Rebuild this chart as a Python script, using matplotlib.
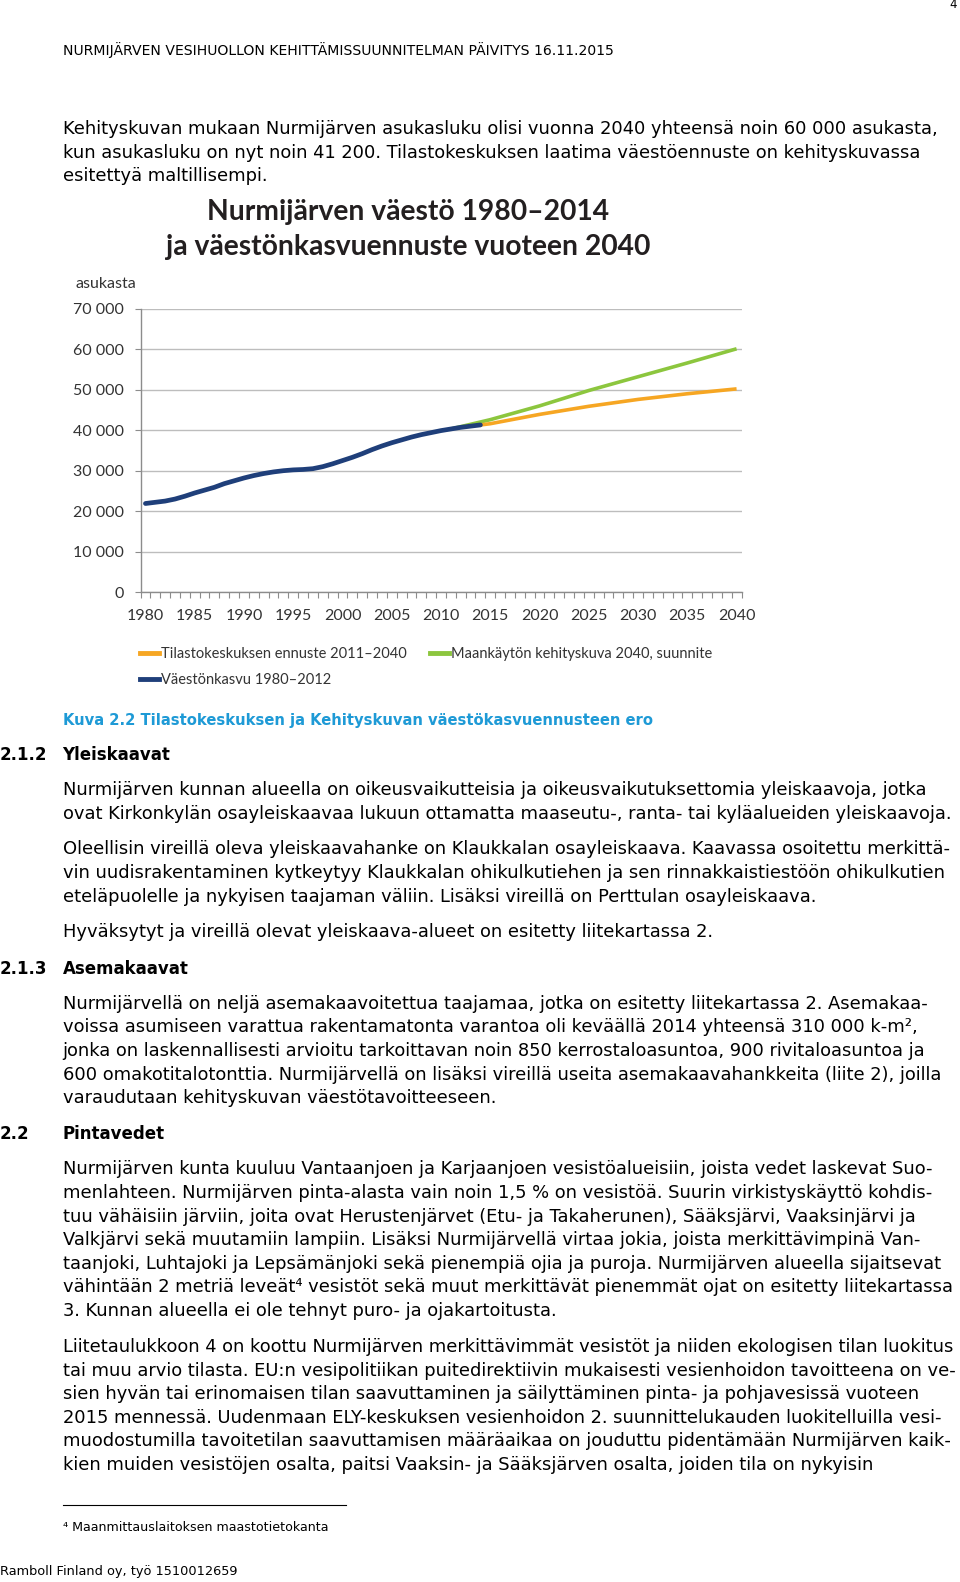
import matplotlib
import numpy as np

matplotlib.use("Agg")
import matplotlib.pyplot as plt
from matplotlib.lines import Line2D

W, H = 960, 1582

# chart data (inhabitants)
years_hist = list(range(1980, 2015))
pop_hist = [21900, 22200, 22500, 23000, 23700, 24500, 25200, 25900, 26800, 27500,
            28200, 28800, 29300, 29700, 30000, 30200, 30300, 30500, 31000, 31700,
            32500, 33300, 34200, 35200, 36100, 36900, 37600, 38300, 38900, 39400,
            39900, 40300, 40700, 41000, 41300]
years_stat = [2014, 2015, 2020, 2025, 2030, 2035, 2040]
pop_stat = [41300, 41600, 43900, 45900, 47600, 49000, 50200]
years_plan = [2011, 2015, 2020, 2025, 2030, 2035, 2040]
pop_plan = [40300, 42600, 46000, 49800, 53200, 56600, 60100]

yticks = [0, 10000, 20000, 30000, 40000, 50000, 60000, 70000]
ytick_labels = ["0", "10 000", "20 000", "30 000", "40 000", "50 000", "60 000", "70 000"]
xticks = list(range(1980, 2041, 5))

label_stat = "Tilastokeskuksen ennuste 2011–2040"
label_plan = "Maankäytön kehityskuva 2040, suunnite"
label_hist = "Väestönkasvu 1980–2012"
chart_title = ["Nurmijärven väestö 1980–2014", "ja väestönkasvuennuste vuoteen 2040"]

C_BLUE = "#1f3f7a"
C_GREEN = "#8cc63e"
C_ORANGE = "#f6a623"
C_CAPTION = "#1e9ad6"
NARROW = ["Lato", "DejaVu Sans"]

header = "NURMIJÄRVEN VESIHUOLLON KEHITTÄMISSUUNNITELMAN PÄIVITYS 16.11.2015"
intro = [
    "Kehityskuvan mukaan Nurmijärven asukasluku olisi vuonna 2040 yhteensä noin 60 000 asukasta,",
    "kun asukasluku on nyt noin 41 200. Tilastokeskuksen laatima väestöennuste on kehityskuvassa",
    "esitettyä maltillisempi.",
]
caption = "Kuva 2.2 Tilastokeskuksen ja Kehityskuvan väestökasvuennusteen ero"
yleis_p1 = [
    "Nurmijärven kunnan alueella on oikeusvaikutteisia ja oikeusvaikutuksettomia yleiskaavoja, jotka",
    "ovat Kirkonkylän osayleiskaavaa lukuun ottamatta maaseutu-, ranta- tai kyläalueiden yleiskaavoja.",
]
yleis_p2 = [
    "Oleellisin vireillä oleva yleiskaavahanke on Klaukkalan osayleiskaava. Kaavassa osoitettu merkittä-",
    "vin uudisrakentaminen kytkeytyy Klaukkalan ohikulkutiehen ja sen rinnakkaistiestöön ohikulkutien",
    "eteläpuolelle ja nykyisen taajaman väliin. Lisäksi vireillä on Perttulan osayleiskaava.",
]
yleis_p3 = ["Hyväksytyt ja vireillä olevat yleiskaava-alueet on esitetty liitekartassa 2."]
asema_p1 = [
    "Nurmijärvellä on neljä asemakaavoitettua taajamaa, jotka on esitetty liitekartassa 2. Asemakaa-",
    "voissa asumiseen varattua rakentamatonta varantoa oli keväällä 2014 yhteensä 310 000 k-m²,",
    "jonka on laskennallisesti arvioitu tarkoittavan noin 850 kerrostaloasuntoa, 900 rivitaloasuntoa ja",
    "600 omakotitalotonttia. Nurmijärvellä on lisäksi vireillä useita asemakaavahankkeita (liite 2), joilla",
    "varaudutaan kehityskuvan väestötavoitteeseen.",
]
pinta_p1 = [
    "Nurmijärven kunta kuuluu Vantaanjoen ja Karjaanjoen vesistöalueisiin, joista vedet laskevat Suo-",
    "menlahteen. Nurmijärven pinta-alasta vain noin 1,5 % on vesistöä. Suurin virkistyskäyttö kohdis-",
    "tuu vähäisiin järviin, joita ovat Herustenjärvet (Etu- ja Takaherunen), Sääksjärvi, Vaaksinjärvi ja",
    "Valkjärvi sekä muutamiin lampiin. Lisäksi Nurmijärvellä virtaa jokia, joista merkittävimpinä Van-",
    "taanjoki, Luhtajoki ja Lepsämänjoki sekä pienempiä ojia ja puroja. Nurmijärven alueella sijaitsevat",
    "vähintään 2 metriä leveät⁴ vesistöt sekä muut merkittävät pienemmät ojat on esitetty liitekartassa",
    "3. Kunnan alueella ei ole tehnyt puro- ja ojakartoitusta.",
]
pinta_p2 = [
    "Liitetaulukkoon 4 on koottu Nurmijärven merkittävimmät vesistöt ja niiden ekologisen tilan luokitus",
    "tai muu arvio tilasta. EU:n vesipolitiikan puitedirektiivin mukaisesti vesienhoidon tavoitteena on ve-",
    "sien hyvän tai erinomaisen tilan saavuttaminen ja säilyttäminen pinta- ja pohjavesissä vuoteen",
    "2015 mennessä. Uudenmaan ELY-keskuksen vesienhoidon 2. suunnittelukauden luokitelluilla vesi-",
    "muodostumilla tavoitetilan saavuttamisen määräaikaa on jouduttu pidentämään Nurmijärven kaik-",
    "kien muiden vesistöjen osalta, paitsi Vaaksin- ja Sääksjärven osalta, joiden tila on nykyisin",
]
footnote = "⁴ Maanmittauslaitoksen maastotietokanta"
footer = "Ramboll Finland oy, työ 1510012659"

BODY = 12.9
HEAD = 12.0
LINE = 23.6
LEFT = 62.5


def fx(x):
    return x / W


def fy(y):
    return 1 - y / H


def lines(fig, rows, y0, x=LEFT, **kw):
    for i, row in enumerate(rows):
        fig.text(fx(x), fy(y0 + i * LINE), row, ha="left", va="center",
                 fontsize=BODY, color="black", **kw)


def heading(fig, num, name, y):
    fig.text(fx(0), fy(y), num, ha="left", va="center", fontsize=HEAD,
             fontweight="bold", color="black")
    fig.text(fx(LEFT), fy(y), name, ha="left", va="center", fontsize=HEAD,
             fontweight="bold", color="black")


fig = plt.figure(figsize=(W / 100, H / 100), dpi=100)
fig.patch.set_facecolor("white")

fig.text(fx(957), fy(5), "4", ha="right", va="center", fontsize=8.5)
fig.text(fx(LEFT), fy(50.5), header, ha="left", va="center", fontsize=10.1)
lines(fig, intro, 129.1)

# --- chart ---
ax_l, ax_r, ax_t, ax_b = 140.5, 741.5, 308.7, 592.2
ax = fig.add_axes([fx(ax_l), fy(ax_b), (ax_r - ax_l) / W, (ax_b - ax_t) / H])
ax.plot(years_plan, pop_plan, color=C_GREEN, lw=2.6, solid_capstyle="butt", zorder=3)
ax.plot(years_stat, pop_stat, color=C_ORANGE, lw=2.6, solid_capstyle="butt", zorder=3)
ax.plot(years_hist, pop_hist, color=C_BLUE, lw=3.4, solid_capstyle="round", zorder=4)
ax.set_xlim(1979.5, 2040.5)
ax.set_ylim(0, 70000)
ax.set_yticks(yticks)
ax.set_yticklabels(ytick_labels, family=NARROW, fontsize=11.5, color="#333333")
ax.set_xticks(xticks)
ax.set_xticklabels([str(x) for x in xticks], family=NARROW, fontsize=11.5, color="#333333")
ax.set_xticks(np.arange(1979.5, 2041, 1), minor=True)
ax.tick_params(axis="x", which="major", length=0, pad=12)
ax.tick_params(axis="x", which="minor", length=4, color="#8c8c8c", width=0.8)
ax.tick_params(axis="y", length=4, color="#8c8c8c", width=0.8, pad=8)
ax.grid(axis="y", color="#bdbdbd", lw=1.0)
ax.set_axisbelow(True)
for s in ("top", "right"):
    ax.spines[s].set_visible(False)
for s in ("left", "bottom"):
    ax.spines[s].set_color("#8c8c8c")
    ax.spines[s].set_linewidth(1.0)

fig.text(fx(76), fy(283.5), "asukasta", ha="left", va="center", family=NARROW,
         fontsize=11.5, color="#333333")
for i, t in enumerate(chart_title):
    fig.text(fx(408), fy(212 + i * 35.5), t, ha="center", va="center", family=NARROW,
             fontsize=20.3, fontweight="bold", color="#231f20")

handles = [Line2D([], [], color=C_ORANGE, lw=3.5),
           Line2D([], [], color=C_BLUE, lw=3.5),
           Line2D([], [], color=C_GREEN, lw=3.5)]
fig.legend(handles, [label_stat, label_hist, label_plan], ncol=2,
           loc="upper left", bbox_to_anchor=(fx(140), fy(647)), frameon=False,
           prop={"family": NARROW, "size": 10.5}, handlelength=1.3, handletextpad=0.15,
           columnspacing=1.6, labelspacing=0.8, borderaxespad=0, borderpad=0,
           labelcolor="#333333")

# --- text body ---
fig.text(fx(LEFT), fy(720.4), caption, ha="left", va="center", fontsize=10.6,
         fontweight="bold", color=C_CAPTION)
heading(fig, "2.1.2", "Yleiskaavat", 754.7)
lines(fig, yleis_p1, 790.0)
lines(fig, yleis_p2, 849.5)
lines(fig, yleis_p3, 932.2)
heading(fig, "2.1.3", "Asemakaavat", 968.5)
lines(fig, asema_p1, 1003.9)
heading(fig, "2.2", "Pintavedet", 1134.0)
lines(fig, pinta_p1, 1169.3)
lines(fig, pinta_p2, 1346.9)

fig.add_artist(Line2D([fx(62.6), fx(346)], [fy(1505.3), fy(1505.3)], color="black", lw=0.8))
fig.text(fx(LEFT), fy(1527.5), footnote, ha="left", va="center", fontsize=9.1)
fig.text(fx(0), fy(1571.9), footer, ha="left", va="center", fontsize=9.3)

fig.savefig("out.png", dpi=100, facecolor="white")
